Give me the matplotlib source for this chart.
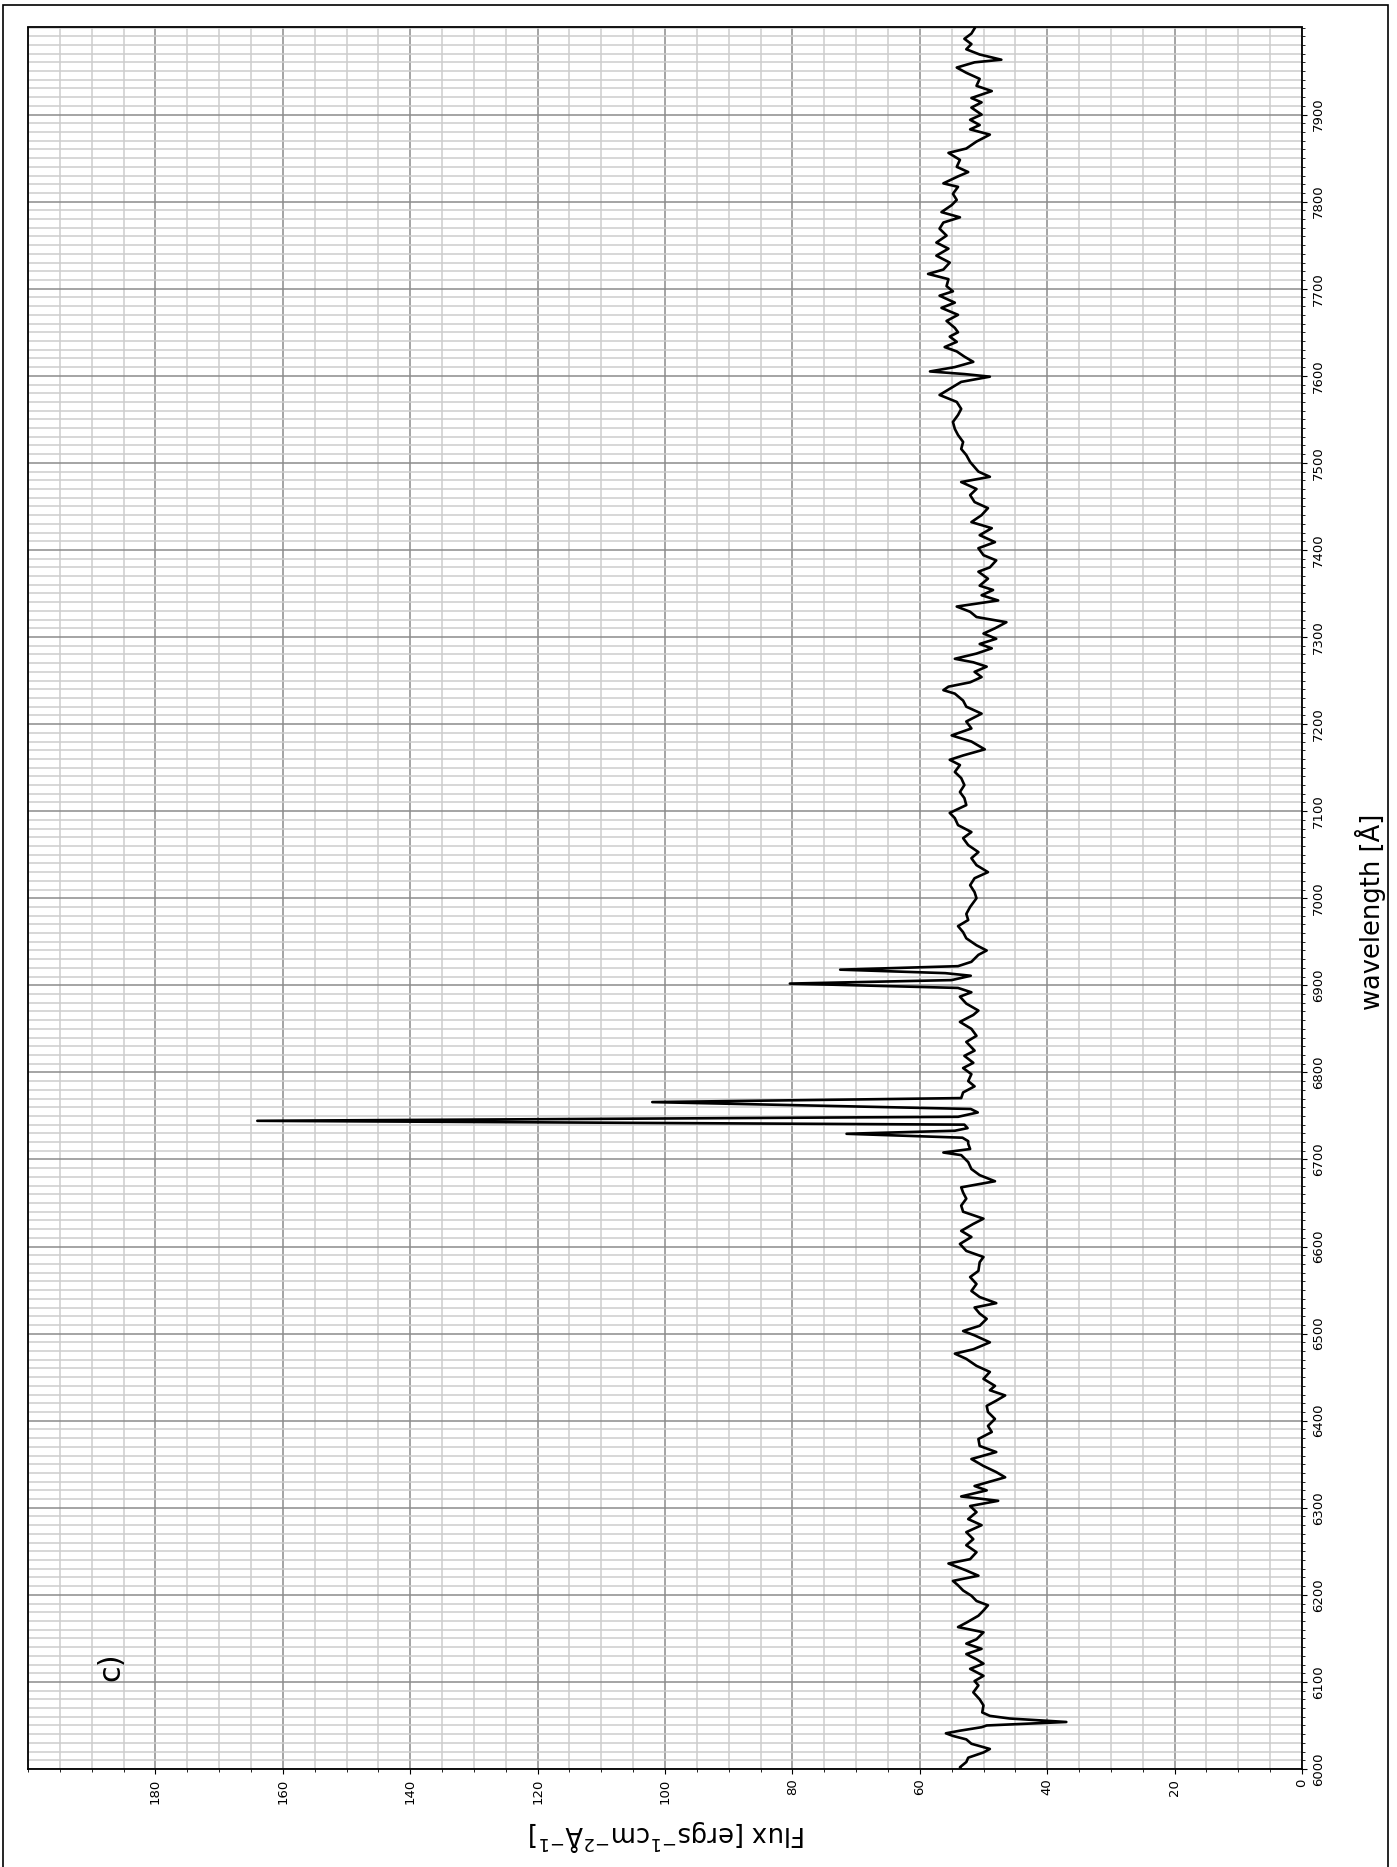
import numpy as np
import matplotlib.pyplot as plt
from matplotlib.patches import Rectangle
from matplotlib.ticker import MultipleLocator

# ---- spectrum, read in three pieces ----
# blue side: continuum + the absorption dip near 6054 A
wave_blue = [6000, 6002, 6008, 6013, 6019, 6023, 6029, 6034, 6038, 6041,
             6044, 6048, 6050, 6054, 6058, 6061, 6065, 6073, 6080, 6088,
             6096, 6101, 6107, 6115, 6121, 6126, 6132, 6138, 6144, 6149,
             6157, 6163, 6168, 6176, 6182, 6188, 6193, 6199, 6205, 6211,
             6216, 6222, 6228, 6236, 6241, 6249, 6257, 6264, 6272, 6280,
             6287, 6295, 6302, 6308, 6313, 6320, 6325, 6335, 6341, 6348,
             6356, 6364, 6371, 6379, 6387, 6394, 6402, 6410, 6417, 6423,
             6429, 6435, 6440, 6448, 6456, 6463, 6471, 6477, 6482, 6490,
             6498, 6503, 6509, 6517, 6523, 6530, 6535, 6542, 6549, 6557,
             6565, 6572, 6582, 6588, 6595, 6603, 6611, 6618, 6626, 6632,
             6640, 6647, 6655, 6662, 6668, 6675, 6682, 6689, 6697, 6705,
             6708, 6712, 6718, 6721]
flux_blue = [53.5, 53.7, 52.7, 52.4, 50.0, 49.0, 51.9, 52.7, 54.8, 55.9,
             53.7, 50.3, 49.5, 37.0, 45.9, 49.0, 50.2, 50.0, 50.6, 51.6,
             50.8, 51.4, 50.0, 52.1, 50.0, 51.1, 52.7, 50.3, 52.7, 51.1,
             50.0, 54.0, 52.7, 50.8, 50.0, 49.3, 51.1, 51.9, 53.2, 54.0,
             54.8, 50.8, 52.7, 55.5, 52.1, 51.1, 52.7, 51.6, 52.7, 50.3,
             52.4, 51.1, 52.1, 47.7, 53.5, 49.5, 51.4, 46.6, 48.0, 50.0,
             51.9, 48.0, 50.6, 50.8, 48.7, 49.3, 48.2, 49.3, 49.5, 48.0,
             46.6, 49.0, 48.2, 50.0, 49.0, 51.1, 52.7, 54.5, 51.6, 49.0,
             51.4, 53.2, 50.6, 49.5, 50.6, 51.4, 48.0, 50.6, 51.9, 51.1,
             52.1, 50.8, 50.6, 50.0, 52.7, 53.7, 51.9, 53.5, 51.6, 50.0,
             53.2, 53.5, 52.7, 53.2, 53.5, 48.2, 50.6, 51.9, 52.4, 53.5,
             56.3, 52.1, 52.4, 52.4]

# emission-line complex 6725-6930 A
wave_lines = [6725, 6729.5, 6733, 6736, 6740, 6744.4, 6749, 6754, 6758, 6765.9,
              6770.5, 6777, 6784, 6790, 6798, 6805, 6811, 6819, 6825, 6835,
              6842, 6850, 6858, 6866, 6871, 6879, 6887, 6892, 6897, 6902,
              6906, 6911, 6914, 6918, 6922, 6927]
flux_lines = [53.3, 71.5, 54.5, 52.5, 53.0, 164.0, 54.0, 50.9, 52.0, 102.0,
              53.5, 53.2, 51.4, 52.4, 51.9, 53.2, 51.6, 53.0, 51.4, 52.7,
              51.1, 51.9, 53.7, 51.6, 50.8, 52.7, 53.7, 51.9, 54.0, 80.4,
              55.0, 52.0, 56.0, 72.5, 54.0, 51.9]

# red side continuum
wave_red = [6935, 6940, 6946, 6954, 6961, 6968, 6975, 6982, 6990, 7000,
            7007, 7015, 7023, 7030, 7038, 7046, 7053, 7061, 7069, 7076,
            7084, 7092, 7098, 7107, 7115, 7122, 7130, 7138, 7145, 7153,
            7159, 7164, 7171, 7180, 7187, 7195, 7203, 7212, 7220, 7227,
            7235, 7239, 7243, 7248, 7254, 7260, 7266, 7271, 7275, 7281,
            7287, 7292, 7298, 7304, 7310, 7317, 7323, 7329, 7335, 7342,
            7348, 7354, 7359, 7367, 7375, 7380, 7388, 7394, 7402, 7409,
            7417, 7425, 7432, 7440, 7448, 7455, 7463, 7470, 7478, 7484,
            7490, 7495, 7501, 7509, 7516, 7524, 7532, 7539, 7547, 7555,
            7562, 7570, 7578, 7585, 7593, 7599, 7602, 7605, 7610, 7616,
            7622, 7628, 7633, 7639, 7645, 7650, 7655, 7663, 7670, 7678,
            7684, 7692, 7697, 7703, 7711, 7717, 7722, 7730, 7738, 7746,
            7753, 7761, 7769, 7776, 7782, 7788, 7796, 7802, 7809, 7817,
            7821, 7829, 7834, 7840, 7848, 7856, 7861, 7869, 7877, 7883,
            7888, 7894, 7900, 7908, 7914, 7919, 7927, 7933, 7941, 7948,
            7954, 7960, 7963, 7969, 7975, 7981, 7987, 7993, 7999]
flux_red = [50.8, 49.5, 51.1, 52.7, 53.2, 54.0, 52.4, 52.7, 52.1, 51.1,
            51.4, 52.1, 51.4, 49.3, 51.1, 51.9, 50.8, 52.4, 53.2, 51.9,
            54.0, 54.5, 55.3, 52.7, 53.0, 53.7, 53.0, 53.5, 54.5, 53.7,
            55.3, 53.2, 49.8, 51.9, 55.0, 51.9, 52.7, 50.3, 52.7, 53.2,
            54.5, 56.3, 55.5, 52.1, 50.3, 51.4, 49.5, 51.6, 54.5, 51.1,
            48.7, 50.6, 48.0, 50.0, 48.2, 46.4, 51.1, 52.1, 54.2, 47.7,
            50.3, 48.5, 50.6, 49.3, 50.8, 49.0, 48.0, 50.0, 50.8, 48.2,
            50.6, 48.7, 51.9, 50.3, 49.3, 51.4, 52.1, 51.1, 53.5, 49.0,
            50.8, 51.4, 52.1, 52.7, 53.5, 53.2, 54.0, 54.5, 54.8, 54.0,
            53.5, 54.2, 56.9, 55.3, 53.5, 49.0, 53.0, 58.4, 54.5, 51.6,
            53.0, 54.2, 56.1, 54.2, 55.3, 54.0, 54.5, 55.8, 54.0, 56.6,
            54.5, 56.9, 54.8, 55.8, 55.5, 58.7, 56.3, 55.3, 57.4, 55.5,
            57.4, 55.8, 56.9, 56.3, 53.7, 56.6, 55.0, 54.2, 54.8, 54.0,
            56.3, 54.0, 52.4, 54.2, 53.7, 55.5, 52.7, 51.1, 49.0, 52.1,
            50.6, 52.1, 50.3, 51.9, 50.3, 51.9, 48.7, 51.1, 50.6, 52.7,
            54.2, 51.4, 47.2, 50.6, 52.7, 51.9, 53.0, 51.9, 51.4]

wave_ticks = list(range(6000, 8000, 100))
flux_ticks = list(range(0, 200, 20))

wave = np.concatenate([wave_blue, wave_lines, wave_red])
flux = np.concatenate([flux_blue, flux_lines, flux_red])

# ---- figure: wavelength runs up the page, flux increases to the left ----
W, H = 1397, 1867
fig = plt.figure(figsize=(W / 100, H / 100), dpi=100)
ax = fig.add_axes([28 / W, 1 - 1769 / H, (1302 - 28) / W, (1769 - 27.5) / H])

ax.plot(flux, wave, color="black", lw=1.9, zorder=3)

ax.set_xlim(200, 0)
ax.set_ylim(6000, 8000)

ax.set_xticks(flux_ticks)
ax.set_yticks(wave_ticks)
ax.xaxis.set_minor_locator(MultipleLocator(5))
ax.yaxis.set_minor_locator(MultipleLocator(10))

ax.yaxis.tick_right()
ax.xaxis.tick_bottom()
ax.tick_params(which="both", direction="out", labelsize=9.5, colors="black")
ax.tick_params(axis="y", labelrotation=90)
ax.tick_params(axis="x", labelrotation=90)
for lab in ax.get_yticklabels():
    lab.set_va("center")

ax.set_axisbelow(True)
ax.grid(which="major", color="#8c8c8c", lw=1.1)
ax.grid(which="minor", color="#cdcdcd", lw=1.1)
for sp in ax.spines.values():
    sp.set_linewidth(1.3)

ax.text(187, 6117, "c)", rotation=90, fontsize=22, ha="center", va="center")

fig.text(1370 / W, 1 - 912 / H, "wavelength [Å]", rotation=90,
         fontsize=18.5, ha="center", va="center")
fig.text(667 / W, 1 - 1836 / H,
         r"Flux [ergs$^{-1}$cm$^{-2}$Å$^{-1}$]", rotation=180,
         fontsize=18.5, ha="center", va="center")

# page frame
fig.add_artist(Rectangle((3 / W, -0.01), (1388 - 3) / W, 1.01 - 5 / H,
                         transform=fig.transFigure, fill=False,
                         ec="black", lw=1.2))

fig.savefig("out.png", dpi=100)
